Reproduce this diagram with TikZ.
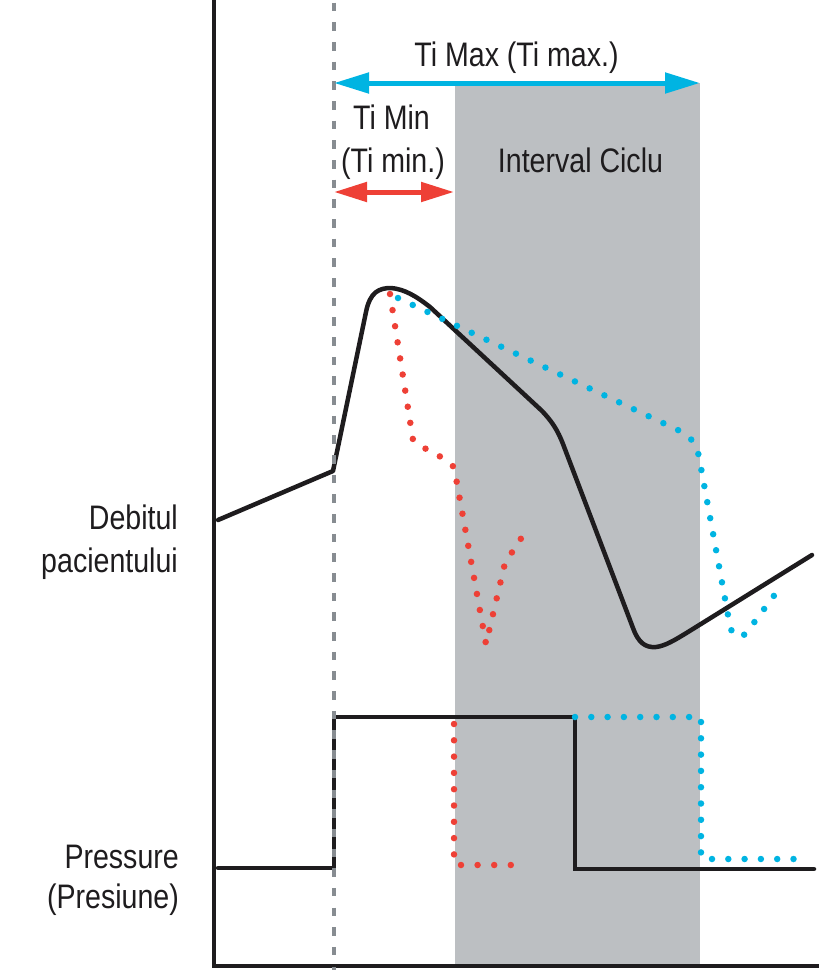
\documentclass[tikz,border=0pt]{standalone}
\usepackage{fontspec}
\setmainfont{Liberation Sans}[FakeStretch=0.84]
\usetikzlibrary{arrows.meta}
\definecolor{tcyan}{RGB}{0,180,226}
\definecolor{tred}{RGB}{238,64,54}
\definecolor{tgray}{RGB}{188,191,194}
\definecolor{tdash}{RGB}{135,140,145}
\definecolor{tblack}{RGB}{30,28,30}
\begin{document}
\begin{tikzpicture}[x=1pt,y=-1pt,
  lbl/.style={font=\fontsize{34}{43}\selectfont, inner sep=0pt, text=tblack},
  curve/.style={line width=4.5pt, draw=tblack, line join=round, line cap=round},
  dots/.style={line width=6.5pt, line cap=round, dash pattern=on 0pt off 16.3pt},
  axis/.style={line width=4pt, draw=tblack},
  cyanarrow/.style={line width=5pt, draw=tcyan, {Triangle[length=35pt,width=20pt]}-{Triangle[length=35pt,width=20pt]}},
  redarrow/.style={line width=5pt, draw=tred, {Triangle[length=33pt,width=19pt]}-{Triangle[length=33pt,width=19pt]}}]
\useasboundingbox (0,0) rectangle (819,970);
% cycle interval
\fill[tgray] (455,83) rectangle (700,966);
% axes
\coordinate (axtop) at (214,0);
\coordinate (axorig) at (214,966);
\coordinate (axright) at (819,966);
\draw[axis] (axtop) -- (axorig) -- (axright);
% patient flow (black)
\draw[curve] (218,520) -- (333,471) -- (366,312)
  .. controls (370,292) and (379,288) .. (391,288)
  .. controls (404,289) and (416,296) .. (430,307)
  -- (541,410) .. controls (552,421) and (558,431) .. (563,444)
  -- (633,628) .. controls (638,642) and (645,648) .. (656,647)
  .. controls (665,646) and (675,640) .. (688,632) -- (812,555);
% flow, Ti min (red dots)
\draw[dots, tred] (390,294) -- (413,440) -- (426,449) -- (441,457) -- (454,467)
  -- (486,644) -- (505,563) -- (522,537);
% flow, Ti max (cyan dots)
\draw[dots, tcyan] (398,298) -- (680,431) .. controls (692,437) and (697,446) .. (699,457)
  -- (730,626) .. controls (733,638) and (740,640) .. (747,632) -- (776,593);
% pressure (black)
\draw[curve, line join=miter] (218,868) -- (334,868) -- (334,717) -- (575,717) -- (575,869) -- (814,869);
% pressure, Ti min (red dots)
\draw[dots, tred] (454,724) -- (454,856);
\draw[dots, tred, dash pattern=on 0pt off 16.6pt] (461,865) -- (511,865);
% pressure, Ti max (cyan dots)
\draw[dots, tcyan] (575,717) -- (689.5,717);
\draw[dots, tcyan] (701,722) -- (701,853);
\draw[dots, tcyan] (712,859) -- (793.6,859);
% dashed start line
\coordinate (dtop) at (334,2.7);
\coordinate (dbot) at (334,970);
\draw[tdash, line width=4.5pt, dash pattern=on 8.5pt off 11.17pt] (dtop) -- (dbot);
% arrows
\coordinate (cL) at (334,83);
\coordinate (cR) at (700,83);
\draw[cyanarrow] (cL) -- (cR);
\coordinate (rL) at (334,192);
\coordinate (rR) at (454,192);
\draw[redarrow] (rL) -- (rR);
% labels
\node[lbl, anchor=base] (timax) at (516.5,66) {Ti Max (Ti max.)};
\node[lbl, anchor=base] (timin1) at (391.5,129) {Ti Min};
\node[lbl, anchor=base] (timin2) at (393,172) {(Ti min.)};
\node[lbl, anchor=base] (cycle) at (580.5,172) {Interval Ciclu};
\node[lbl, anchor=base east] (flow1) at (178,529) {Debitul};
\node[lbl, anchor=base east] (flow2) at (178,572) {pacientului};
\node[lbl, anchor=base east] (pr1) at (179,868) {Pressure};
\node[lbl, anchor=base east] (pr2) at (179,908) {(Presiune)};
\end{tikzpicture}
\end{document}
